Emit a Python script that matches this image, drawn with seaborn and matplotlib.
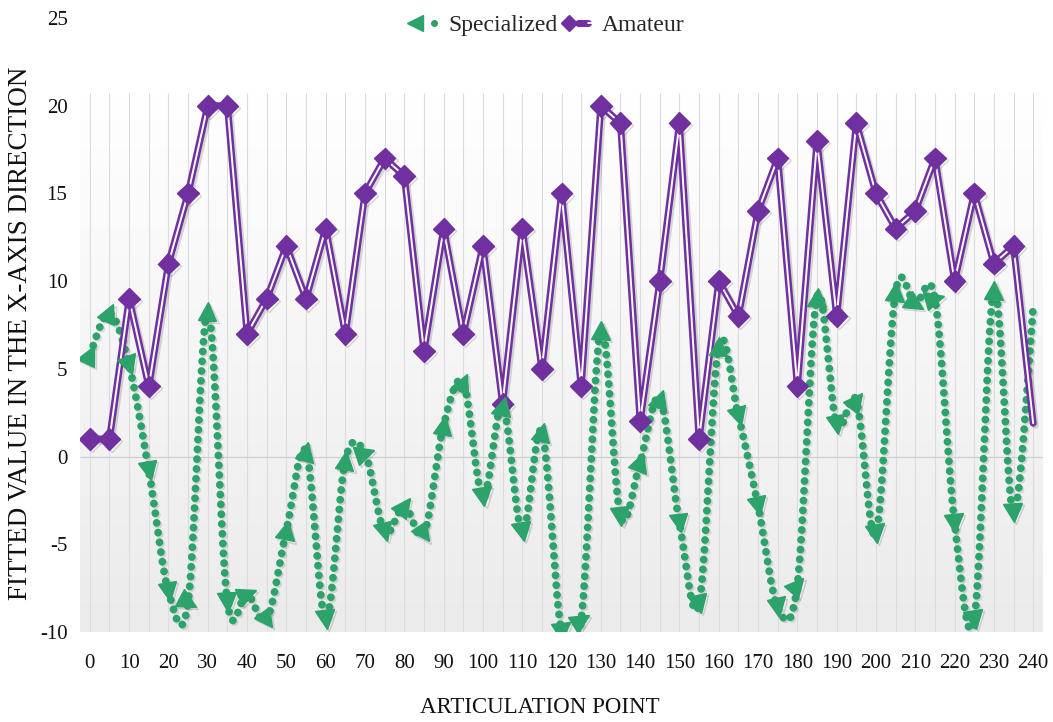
import numpy as np
import pandas as pd
import matplotlib
matplotlib.use("Agg")
import matplotlib.pyplot as plt
import seaborn as sns
from matplotlib.markers import MarkerStyle
from matplotlib.transforms import Affine2D
from matplotlib.lines import Line2D
from matplotlib.legend_handler import HandlerTuple
from matplotlib.colors import LinearSegmentedColormap
import matplotlib.patheffects as pe

# ---------------- data ----------------
articulation_points = [0, 5, 10, 15, 20, 25, 30, 35, 40, 45, 50, 55, 60, 65, 70, 75, 80,
                       85, 90, 95, 100, 105, 110, 115, 120, 125, 130, 135, 140, 145, 150,
                       155, 160, 165, 170, 175, 180, 185, 190, 195, 200, 205, 210, 215,
                       220, 225, 230, 235, 240]
specialized = [5.8, 8.2, 5.2, -0.8, -7.7, -8.3, 8.3, -8.3, -7.8, -9.3, -4.2, 0.3, -9.3,
               -0.2, 0.2, -4.3, -2.8, -4.4, 1.8, 4.2, -2.3, 2.9, -4.3, 1.4, -10.0, -9.3,
               7.2, -3.4, -0.3, 3.3, -3.8, -8.4, 6.3, 2.3, -2.8, -8.6, -7.3, 9.1, 1.8,
               3.2, -4.4, 9.4, 8.7, 9.0, -3.8, -9.3, 9.5, -3.2, 8.5]
amateur = [1, 1, 9, 4, 11, 15, 20, 20, 7, 9, 12, 9, 13, 7, 15, 17, 16, 6, 13, 7, 12, 3,
           13, 5, 15, 4, 20, 19, 2, 10, 19, 1, 10, 8, 14, 17, 4, 18, 8, 19, 15, 13, 14,
           17, 10, 15, 11, 12, 1.9]
y_ticks = [-10, -5, 0, 5, 10, 15, 20, 25]
x_ticks = [0, 10, 20, 30, 40, 50, 60, 70, 80, 90, 100, 110, 120, 130, 140, 150, 160,
           170, 180, 190, 200, 210, 220, 230, 240]

df = pd.DataFrame({"point": articulation_points,
                   "Specialized": specialized,
                   "Amateur": amateur})

# ---------------- style ----------------
GREEN = "#2BA36B"
PURPLE = "#7030A0"
PLOT_TOP = 20.7
XL, XR = -2.5, 242.5

sns.set_theme(style="white")
plt.rcParams["font.family"] = ["Liberation Serif", "DejaVu Serif"]

fig = plt.figure(figsize=(10.53, 7.22), dpi=100)
ax = fig.add_axes([80 / 1053, 1 - 632 / 722, (1043 - 80) / 1053, (632 - 18) / 722])
ax.set_xlim(XL, XR)
ax.set_ylim(-10, 25)
ax.patch.set_alpha(0)
for s in ax.spines.values():
    s.set_visible(False)

# gradient plot-area background
grad = np.linspace(0, 1, 256).reshape(-1, 1)
cmap = LinearSegmentedColormap.from_list("bg", ["#ebebeb", "#ffffff"])
ax.imshow(grad, extent=(XL, XR, -10, PLOT_TOP), origin="lower", aspect="auto",
          cmap=cmap, zorder=0)

# vertical guide lines and zero line
ax.vlines(df["point"], -10, PLOT_TOP, color="#dcdcdc", lw=0.8, zorder=1)
ax.hlines(0, XL, XR, color="#cfcfcf", lw=0.9, zorder=1)

shadow = [pe.SimpleLineShadow(offset=(1.5, -1.5), alpha=0.22, shadow_color="#555555"),
          pe.Normal()]


def bezier_smooth(xs, ys, n=30):
    xs = np.asarray(xs, float)
    ys = np.asarray(ys, float)
    N = len(xs)
    outx, outy = [], []
    for i in range(N - 1):
        x0, y0, x3, y3 = xs[i], ys[i], xs[i + 1], ys[i + 1]
        xm, ym = (xs[i - 1], ys[i - 1]) if i > 0 else (x0, y0)
        xp, yp = (xs[i + 2], ys[i + 2]) if i + 2 < N else (x3, y3)
        x1, y1 = x0 + (x3 - xm) / 6, y0 + (y3 - ym) / 6
        x2, y2 = x3 - (xp - x0) / 6, y3 - (yp - y0) / 6
        t = np.linspace(0, 1, n, endpoint=(i == N - 2))
        b0, b1, b2, b3 = (1 - t) ** 3, 3 * t * (1 - t) ** 2, 3 * t ** 2 * (1 - t), t ** 3
        outx.append(b0 * x0 + b1 * x1 + b2 * x2 + b3 * x3)
        outy.append(b0 * y0 + b1 * y1 + b2 * y2 + b3 * y3)
    return np.concatenate(outx), np.concatenate(outy)


# ---- Specialized: smoothed dotted green line ----
sx, sy = bezier_smooth(df["point"], df["Specialized"])
smooth_df = pd.DataFrame({"x": sx, "y": sy})
sns.lineplot(data=smooth_df, x="x", y="y", ax=ax, color=GREEN, lw=5.6, sort=False,
             estimator=None, zorder=3)
gl = ax.lines[-1]
gl.set_linestyle((0, (0.01, 1.25)))
gl.set_dash_capstyle("round")
gl.set_path_effects([pe.SimpleLineShadow(offset=(1.2, -1.2), alpha=0.18,
                                         shadow_color="#555555"), pe.Normal()])

# ---- Amateur: double purple line ----
sns.lineplot(data=df, x="point", y="Amateur", ax=ax, color=PURPLE, lw=5.0,
             estimator=None, zorder=4)
ax.lines[-1].set_path_effects(shadow)
ax.lines[-1].set_solid_joinstyle("round")
ax.lines[-1].set_solid_capstyle("round")
sns.lineplot(data=df, x="point", y="Amateur", ax=ax, color="white", lw=1.4,
             estimator=None, zorder=5)
ax.lines[-1].set_solid_joinstyle("round")

# markers (last point drawn without marker)
mk = df.iloc[:-1]
ax.plot(mk["point"], mk["Amateur"], ls="none", marker="D", ms=11, color=PURPLE,
        mec=PURPLE, zorder=6, path_effects=shadow)

# green arrow-like triangles pointing along the incoming direction
fig.canvas.draw()
disp = ax.transData.transform(np.column_stack([df["point"], df["Specialized"]]))
for i in range(len(df) - 1):
    d = disp[1] - disp[0] if i == 0 else disp[i] - disp[i - 1]
    ang = np.degrees(np.arctan2(d[1], d[0]))
    m = MarkerStyle(">", transform=Affine2D().rotate_deg(ang))
    ax.plot([df["point"].iloc[i]], [df["Specialized"].iloc[i]], ls="none", marker=m,
            ms=13.5, color=GREEN, mec=GREEN, zorder=7, path_effects=shadow)

# ---------------- axes text ----------------
ax.set_yticks(y_ticks)
ax.set_yticklabels([str(v) for v in y_ticks])
ax.set_xticks(x_ticks)
ax.set_xticklabels([str(v) for v in x_ticks])
ax.tick_params(axis="both", labelsize=15, colors="#111111", length=0)
ax.tick_params(axis="y", pad=9)
ax.tick_params(axis="x", pad=16)
ax.set_xlabel("ARTICULATION POINT", fontsize=16.5, color="#111111")
ax.set_ylabel("FITTED VALUE IN THE X-AXIS DIRECTION", fontsize=19.5, color="#111111")
ax.yaxis.set_label_coords((33 - 80) / 963, (632 - 333) / 614)
ax.xaxis.set_label_coords((540 - 80) / 963, -(697 - 632) / 614)

# ---------------- legend ----------------
g_mark = Line2D([], [], color=GREEN, marker="<", ms=11, ls="none")
g_dot = Line2D([], [], color=GREEN, marker="o", ms=4, ls="none")
p_mark = Line2D([], [], color=PURPLE, marker="D", ms=8, ls="none")
p_l1 = Line2D([], [], color=PURPLE, lw=5)
p_l2 = Line2D([], [], color="white", lw=1.3)
fig.legend([(g_mark, g_dot), (p_mark, (p_l1, p_l2))], ["Specialized", "Amateur"],
           handler_map={tuple: HandlerTuple(ndivide=None, pad=0)},
           loc="center", bbox_to_anchor=(545 / 1053, 1 - 25 / 722), ncol=2,
           frameon=False, fontsize=17, handlelength=1.6, handletextpad=0.2,
           columnspacing=0.1)

fig.savefig("out.png", dpi=100)
